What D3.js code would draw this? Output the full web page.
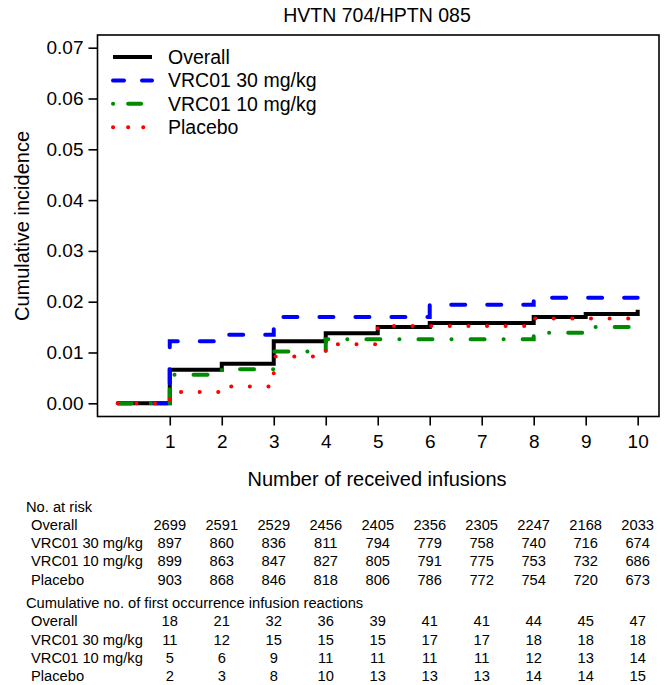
<!DOCTYPE html>
<html>
<head>
<meta charset="utf-8">
<title>HVTN 704/HPTN 085</title>
<style>
	body { margin: 0; background: #fff; }
	text { font-family: "Liberation Sans", Arial, sans-serif; fill: #000; }
</style>
</head>
<body>
<script src="https://d3js.org/d3.v7.min.js"></script>
<script>
	// values
	var infusions = [0, 1, 2, 3, 4, 5, 6, 7, 8, 9, 10];
	var xTicks = [1, 2, 3, 4, 5, 6, 7, 8, 9, 10];
	var yTicks = [0, 0.01, 0.02, 0.03, 0.04, 0.05, 0.06, 0.07];
	var groups = ["Overall", "VRC01 30 mg/kg", "VRC01 10 mg/kg", "Placebo"];
	var overall = [0, 0.0066, 0.0078, 0.0122, 0.0138, 0.0150, 0.0158, 0.0158, 0.0170, 0.0176, 0.0184];
	var vrc30 = [0, 0.0122, 0.0135, 0.0170, 0.0170, 0.0170, 0.0194, 0.0194, 0.0208, 0.0208, 0.0208];
	var vrc10 = [0, 0.0056, 0.0067, 0.0102, 0.0126, 0.0126, 0.0126, 0.0126, 0.0139, 0.0150, 0.0154];
	var placebo = [0, 0.0022, 0.0033, 0.0092, 0.0116, 0.0152, 0.0152, 0.0152, 0.0167, 0.0167, 0.0180];

	var atRisk = [
		[2699, 2591, 2529, 2456, 2405, 2356, 2305, 2247, 2168, 2033],
		[897, 860, 836, 811, 794, 779, 758, 740, 716, 674],
		[899, 863, 847, 827, 805, 791, 775, 753, 732, 686],
		[903, 868, 846, 818, 806, 786, 772, 754, 720, 673]
	];
	var reactions = [
		[18, 21, 32, 36, 39, 41, 41, 44, 45, 47],
		[11, 12, 15, 15, 15, 17, 17, 18, 18, 18],
		[5, 6, 9, 11, 11, 11, 11, 12, 13, 14],
		[2, 3, 8, 10, 13, 13, 13, 14, 14, 15]
	];

	var w = 665,
		h = 685,
		plotLeft = 97.5,
		plotRight = 659,
		plotTop = 35,
		plotBottom = 416.5;

	var series = [
		{ name: groups[0], values: overall, color: "#000000", dash: null, legendDash: null, cap: "butt" },
		{ name: groups[1], values: vrc30, color: "#0000ff", dash: "14,22", legendDash: "11,18", cap: "round" },
		{ name: groups[2], values: vrc10, color: "#008b00", dash: "14,19,0.1,19", legendDash: "0.1,15,13,30", cap: "round" },
		{ name: groups[3], values: placebo, color: "#ff0000", dash: "0.1,18.5", legendDash: "0.1,15", cap: "round" }
	];

	var canvas = d3.select("body").append("svg")
			.attr("width", w)
			.attr("height", h);

	var x = d3.scaleLinear()
			.domain([-0.39, 10.41])
			.range([plotLeft, plotRight]);
	var y = d3.scaleLinear()
			.domain([-0.0026, 0.0725])
			.range([plotBottom, plotTop]);

	// title
	canvas.append("text")
		.attr("x", 377)
		.attr("y", 22)
		.attr("text-anchor", "middle")
		.attr("font-size", "19.5px")
		.text("HVTN 704/HPTN 085");

	// axes
	var yAxis = canvas.append("g")
			.attr("transform", "translate(" + plotLeft + ",0)")
			.call(d3.axisLeft(y).tickValues(yTicks).tickFormat(d3.format(".2f")).tickSize(9).tickPadding(5));
	var xAxis = canvas.append("g")
			.attr("transform", "translate(0," + plotBottom + ")")
			.call(d3.axisBottom(x).tickValues(xTicks).tickSize(9).tickPadding(9.5));
	[xAxis, yAxis].forEach(function(a) {
		a.select(".domain").remove();
		a.selectAll("line").attr("stroke", "#000").attr("stroke-width", 1.6);
		a.selectAll("text")
			.attr("font-size", "19px")
			.attr("font-family", "\"Liberation Sans\", Arial, sans-serif")
			.attr("fill", "#000");
	});

	// step lines
	var line = d3.line()
			.x(function(d, i) { return x(infusions[i]); })
			.y(function(d) { return y(d); })
			.curve(d3.curveStepAfter);

	canvas.append("g").selectAll("path")
		.data(series)
		.enter()
		.append("path")
			.attr("d", function(d) { return line(d.values); })
			.attr("fill", "none")
			.attr("stroke", function(d) { return d.color; })
			.attr("stroke-width", 4)
			.attr("stroke-dasharray", function(d) { return d.dash; })
			.attr("stroke-linecap", function(d) { return d.cap; });

	// plot box
	canvas.append("rect")
		.attr("x", plotLeft)
		.attr("y", plotTop)
		.attr("width", plotRight - plotLeft)
		.attr("height", plotBottom - plotTop)
		.attr("fill", "none")
		.attr("stroke", "#000")
		.attr("stroke-width", 1.6);

	// legend
	var legend = canvas.append("g").selectAll("g")
			.data(series)
			.enter()
			.append("g")
				.attr("transform", function(d, i) { return "translate(113," + (57 + i * 23.4) + ")"; });
	legend.append("line")
		.attr("x1", 0)
		.attr("x2", 39)
		.attr("stroke", function(d) { return d.color; })
		.attr("stroke-width", 4)
		.attr("stroke-dasharray", function(d) { return d.legendDash; })
		.attr("stroke-linecap", function(d) { return d.cap; });
	legend.append("text")
		.attr("x", 55)
		.attr("y", 7)
		.attr("font-size", "19.5px")
		.text(function(d) { return d.name; });

	// axis titles
	canvas.append("text")
		.attr("x", 377)
		.attr("y", 486)
		.attr("text-anchor", "middle")
		.attr("font-size", "20px")
		.text("Number of received infusions");
	canvas.append("text")
		.attr("transform", "translate(29,226) rotate(-90)")
		.attr("text-anchor", "middle")
		.attr("font-size", "20px")
		.text("Cumulative incidence");

	// risk table
	function table(title, rows, y0) {
		canvas.append("text")
			.attr("x", 26)
			.attr("y", y0 + 5)
			.attr("font-size", "14.7px")
			.text(title);
		rows.forEach(function(r, j) {
			var yy = y0 + 18.3 * (j + 1) + 5;
			canvas.append("text")
				.attr("x", 31)
				.attr("y", yy)
				.attr("font-size", "14.7px")
				.text(groups[j]);
			canvas.append("g").selectAll("text")
				.data(r)
				.enter()
				.append("text")
					.attr("x", function(d, i) { return x(xTicks[i]); })
					.attr("y", yy)
					.attr("text-anchor", "middle")
					.attr("font-size", "14.7px")
					.text(function(d) { return d; });
		});
	}
	table("No. at risk", atRisk, 506.5);
	table("Cumulative no. of first occurrence infusion reactions", reactions, 603);
</script>
</body>
</html>
